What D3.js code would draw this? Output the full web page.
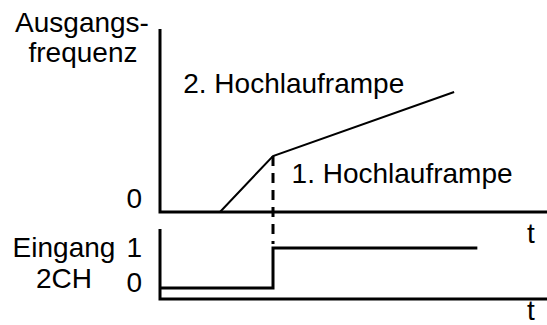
<!DOCTYPE html>
<html>
<head>
<meta charset="utf-8">
<script src="https://cdn.jsdelivr.net/npm/d3@7"></script>
<style>
  body { margin: 0; background: #fff; }
  svg text { font-family: "Liberation Sans", Arial, sans-serif; font-size: 28px; fill: #000; }
</style>
</head>
<body>
<div class="chart"></div>
<script>
// data
var rampTime = [1.55, 2.92, 7.6];
var rampFreq = [0, 3.06, 6.56];
var inputTime = [0, 2.92, 2.92, 8.2];
var inputLevel = [0, 0, 1, 1];
var switchTime = 2.92;
var freqTicks = ["0"];
var inputTicks = ["0", "1"];

var svgWidth = 547;
var svgHeight = 325;

var svg = d3.select(".chart")
  .append("svg")
  .attr("width", svgWidth)
  .attr("height", svgHeight);

// scales
var x = d3.scaleLinear().domain([0, 10]).range([160, 547]);
var yFreq = d3.scaleLinear().domain([0, 10]).range([212, 29]);
var yIn = d3.scaleLinear().domain([0, 1]).range([288, 248]);
var inTop = 229, inBottom = 299;

// axes of top panel
svg.append("path")
  .attr("d", "M" + x(0) + "," + yFreq(10) + "V" + yFreq(0) + "H" + x(10))
  .attr("fill", "none")
  .attr("stroke", "#000")
  .attr("stroke-width", 3);

// axes of bottom panel
svg.append("path")
  .attr("d", "M" + x(0) + "," + inTop + "V" + inBottom + "H" + x(10))
  .attr("fill", "none")
  .attr("stroke", "#000")
  .attr("stroke-width", 3);

// ramp
var ramp = rampTime.map(function(t, i) { return [t, rampFreq[i]]; });
svg.append("path")
  .datum(ramp)
  .attr("d", d3.line().x(function(d) { return x(d[0]); }).y(function(d) { return yFreq(d[1]); }))
  .attr("fill", "none")
  .attr("stroke", "#000")
  .attr("stroke-width", 2);

// dashed switch marker
svg.append("line")
  .attr("x1", x(switchTime)).attr("x2", x(switchTime))
  .attr("y1", yFreq(rampFreq[1])).attr("y2", yIn(1) - 4)
  .attr("stroke", "#000")
  .attr("stroke-width", 3)
  .attr("stroke-dasharray", "10,7");

// input signal
var signal = inputTime.map(function(t, i) { return [t, inputLevel[i]]; });
svg.append("path")
  .datum(signal)
  .attr("d", d3.line().x(function(d) { return x(d[0]); }).y(function(d) { return yIn(d[1]); }))
  .attr("fill", "none")
  .attr("stroke", "#000")
  .attr("stroke-width", 3);

// labels
svg.append("text").attr("x", 82).attr("y", 32).attr("text-anchor", "middle").text("Ausgangs-");
svg.append("text").attr("x", 83).attr("y", 62).attr("text-anchor", "middle").text("frequenz");
svg.append("text").attr("x", 64).attr("y", 257).attr("text-anchor", "middle").text("Eingang");
svg.append("text").attr("x", 64).attr("y", 288).attr("text-anchor", "middle").text("2CH");

svg.selectAll(".ftick")
  .data(freqTicks)
  .enter()
  .append("text")
  .attr("x", x(0) - 18)
  .attr("y", function(d) { return yFreq(+d) - 4; })
  .attr("text-anchor", "end")
  .text(function(d) { return d; });

svg.selectAll(".itick")
  .data(inputTicks)
  .enter()
  .append("text")
  .attr("x", x(0) - 18)
  .attr("y", function(d) { return yIn(+d) + (+d === 1 ? 9 : 4); })
  .attr("text-anchor", "end")
  .text(function(d) { return d; });

svg.append("text").attr("x", x(0.6)).attr("y", 93).text("2. Hochlauframpe");
svg.append("text").attr("x", x(3.4)).attr("y", 183).text("1. Hochlauframpe");

svg.append("text").attr("x", 531).attr("y", 243).attr("text-anchor", "middle").text("t");
svg.append("text").attr("x", 531).attr("y", 320).attr("text-anchor", "middle").text("t");
</script>
</body>
</html>
